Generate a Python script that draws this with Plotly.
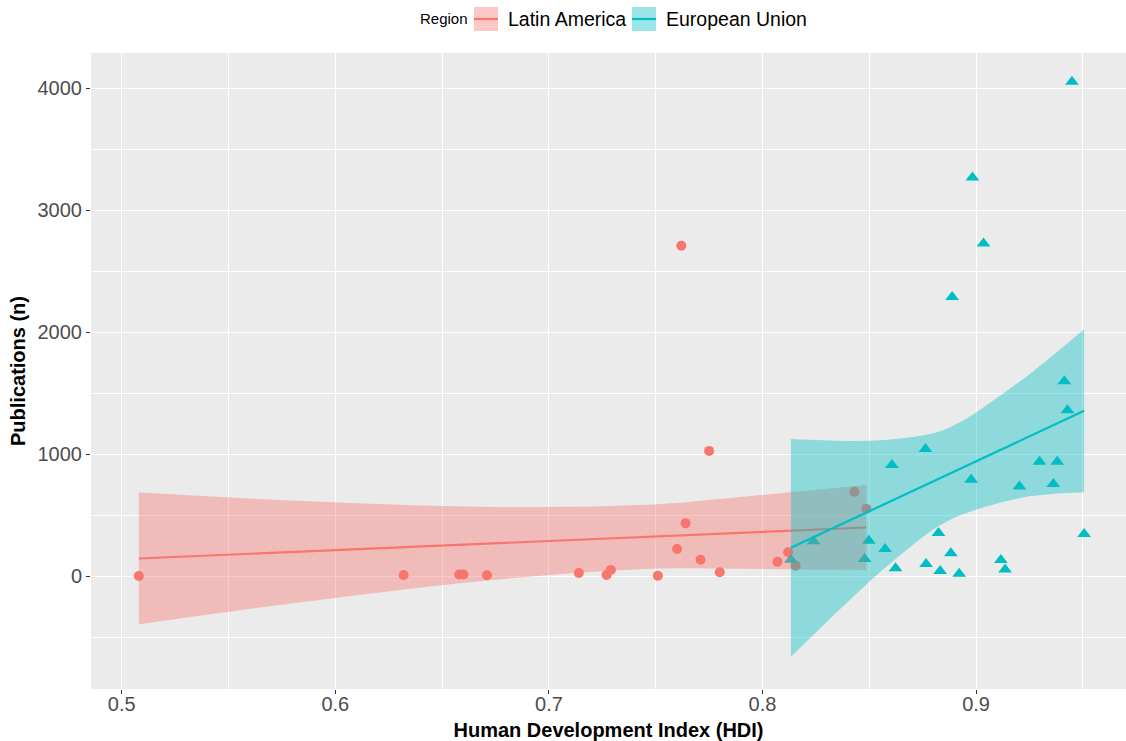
import plotly.graph_objects as go

# ---------------- data ----------------
regions = ["Latin America", "European Union"]

la_hdi = [0.508, 0.632, 0.658, 0.660, 0.671, 0.714, 0.727, 0.729, 0.751, 0.760,
          0.762, 0.764, 0.771, 0.775, 0.780, 0.807, 0.812, 0.8155, 0.843, 0.8486]
la_pub = [3, 10, 15, 15, 8, 27, 11, 52, 5, 224,
          2710, 434, 136, 1028, 33, 120, 197, 87, 694, 554]

eu_hdi = [0.9449, 0.8983, 0.9035, 0.8888, 0.9413, 0.9428, 0.8606, 0.8763, 0.8977,
          0.9203, 0.9297, 0.9380, 0.9362, 0.8133, 0.8239, 0.8498, 0.8478, 0.8574,
          0.8623, 0.8824, 0.8766, 0.8832, 0.8882, 0.8921, 0.9116, 0.9136, 0.9506]
eu_pub = [4055, 3270, 2728, 2290, 1598, 1362, 912, 1043, 792,
          737, 940, 940, 756, 136, 287, 292, 142, 224,
          66, 355, 100, 44, 188, 20, 134, 55, 347]

# linear smoother (geom_smooth, method = "lm") and its 95% band
la_fit_x = [0.508, 0.580, 0.668, 0.745, 0.791, 0.8486]
la_fit_y = [146, 200, 265, 323, 357, 400]
la_band_lo = [-394, -221, -40, 60, 61, 52]
la_band_hi = [686, 621, 570, 586, 653, 748]

eu_fit_x = [0.8133, 0.8395, 0.8612, 0.8863, 0.9175, 0.9331, 0.9506]
eu_fit_y = [233, 447, 625, 830, 1085, 1213, 1357]
eu_band_lo = [-660, -216, 126, 450, 630, 670, 688]
eu_band_hi = [1125, 1110, 1124, 1210, 1560, 1770, 2025]

x_ticks = [0.5, 0.6, 0.7, 0.8, 0.9]
y_ticks = [0, 1000, 2000, 3000, 4000]

COL_LA = "#F8766D"
COL_EU = "#00BFC4"
FILL_LA = "rgba(248,118,109,0.4)"
FILL_EU = "rgba(0,191,196,0.4)"

fig = go.Figure()

# points first (drawn beneath the smoother ribbons, as in ggplot)
fig.add_trace(go.Scatter(x=la_hdi, y=la_pub, mode="markers", name=regions[0],
                         marker=dict(symbol="circle", size=10, color=COL_LA),
                         showlegend=False))
fig.add_trace(go.Scatter(x=eu_hdi, y=eu_pub, mode="markers", name=regions[1],
                         marker=dict(symbol="triangle-up", size=12, color=COL_EU),
                         showlegend=False))

# smoothers: ribbon + line per group
for fx, fy, lo, hi, col, fcol, nm in [
    (la_fit_x, la_fit_y, la_band_lo, la_band_hi, COL_LA, FILL_LA, regions[0]),
    (eu_fit_x, eu_fit_y, eu_band_lo, eu_band_hi, COL_EU, FILL_EU, regions[1]),
]:
    fig.add_trace(go.Scatter(x=fx, y=lo, mode="lines",
                             line=dict(width=0, shape="spline", smoothing=1.0),
                             hoverinfo="skip", showlegend=False, name=nm))
    fig.add_trace(go.Scatter(x=fx, y=hi, mode="lines", fill="tonexty", fillcolor=fcol,
                             line=dict(width=0, shape="spline", smoothing=1.0),
                             hoverinfo="skip", showlegend=False, name=nm))
    fig.add_trace(go.Scatter(x=[fx[0], fx[-1]], y=[fy[0], fy[-1]], mode="lines",
                             line=dict(color=col, width=2.2),
                             showlegend=False, name=nm))

# ---------------- layout ----------------
W, H = 1126, 741
ML, MR, MT, MB = 91, 0, 53, 52
PW, PH = W - ML - MR, H - MT - MB


def px_x(p):
    return (p - ML) / PW


def px_y(p):
    return (H - MB - p) / PH


FONT = "Liberation Sans, Arial, sans-serif"

fig.update_layout(
    width=W, height=H,
    margin=dict(l=ML, r=MR, t=MT, b=MB, pad=0, autoexpand=False),
    paper_bgcolor="white",
    plot_bgcolor="#EBEBEB",
    font=dict(family=FONT, color="#4D4D4D"),
    showlegend=False,
    xaxis=dict(
        range=[0.4856, 0.9702], automargin=False,
        tickvals=x_ticks, ticktext=[str(v) for v in x_ticks],
        showgrid=True, gridcolor="white", gridwidth=1.2,
        minor=dict(dtick=0.05, tick0=0.45, showgrid=True, gridcolor="white",
                   gridwidth=0.6, ticks=""),
        zeroline=False, showline=False,
        ticks="outside", ticklen=4, tickwidth=1.1, tickcolor="#333333",
        ticklabelstandoff=-7,
        tickfont=dict(size=20, color="#4D4D4D", family=FONT),
        title=dict(text="<b>Human Development Index (HDI)</b>",
                   font=dict(size=20, color="black", family=FONT), standoff=12),
    ),
    yaxis=dict(
        range=[-924, 4290], automargin=False,
        tickvals=y_ticks, ticktext=[str(v) for v in y_ticks],
        showgrid=True, gridcolor="white", gridwidth=1.2,
        minor=dict(dtick=500, tick0=-500, showgrid=True, gridcolor="white",
                   gridwidth=0.6, ticks=""),
        zeroline=False, showline=False,
        ticks="outside", ticklen=4, tickwidth=1.1, tickcolor="#333333",
        tickfont=dict(size=20, color="#4D4D4D", family=FONT),
        title=dict(text="<b>Publications (n)</b>",
                   font=dict(size=20, color="black", family=FONT), standoff=6),
    ),
)

# ---------------- ggplot-style legend on top ----------------
shapes = []
annotations = []
annotations.append(dict(xref="paper", yref="paper", x=px_x(418), y=px_y(19), xanchor="left",
                        yanchor="middle", text="Region", showarrow=False,
                        font=dict(size=15, color="black", family=FONT)))
legend_items = [
    (474, COL_LA, FILL_LA, "circle", 10, regions[0], 506),
    (632, COL_EU, FILL_EU, "triangle-up", 12, regions[1], 664),
]
for kx, col, fcol, sym, msz, label, tx in legend_items:
    shapes.append(dict(type="rect", xref="paper", yref="paper",
                       x0=px_x(kx), x1=px_x(kx + 24), y0=px_y(31), y1=px_y(7),
                       fillcolor=fcol, line=dict(width=0), layer="above"))
    shapes.append(dict(type="line", xref="paper", yref="paper",
                       x0=px_x(kx), x1=px_x(kx + 24), y0=px_y(19), y1=px_y(19),
                       line=dict(color=col, width=2.2), layer="above"))
    annotations.append(dict(xref="paper", yref="paper", x=px_x(tx), y=px_y(19),
                            xanchor="left", yanchor="middle", text=label, showarrow=False,
                            font=dict(size=19.5, color="black", family=FONT)))
    fig.add_trace(go.Scatter(x=[px_x(kx + 12)], y=[px_y(19)], xaxis="x2", yaxis="y2",
                             mode="markers", marker=dict(symbol=sym, size=msz, color=col),
                             showlegend=False, hoverinfo="skip", cliponaxis=False))

fig.update_layout(
    shapes=shapes, annotations=annotations,
    xaxis2=dict(overlaying="x", range=[0, 1], visible=False, fixedrange=True),
    yaxis2=dict(overlaying="y", range=[0, 1], visible=False, fixedrange=True),
)

fig.write_html(
    "out.html",
    config={"displayModeBar": False},
    post_script="document.body.style.margin='0px';document.body.style.overflow='hidden';",
)
